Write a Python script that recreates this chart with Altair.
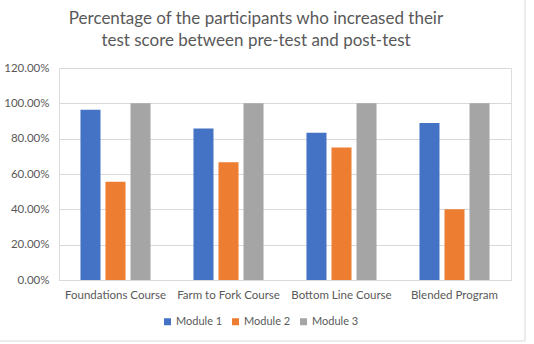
import altair as alt
import pandas as pd

categories = ["Foundations Course", "Farm to Fork Course", "Bottom Line Course", "Blended Program"]
series = ["Module 1", "Module 2", "Module 3"]
module1 = [0.963, 0.857, 0.833, 0.889]
module2 = [0.556, 0.667, 0.75, 0.40]
module3 = [1.0, 1.0, 1.0, 1.0]
colors = ["#4472C4", "#ED7D31", "#A5A5A5"]
y_ticks = [0, 0.2, 0.4, 0.6, 0.8, 1.0, 1.2]

rows = []
for i, c in enumerate(categories):
    for s, vals in zip(series, [module1, module2, module3]):
        rows.append({"Course": c, "Module": s, "Value": vals[i]})
df = pd.DataFrame(rows)

FONT = "Lato"
TXT = "#595959"

bars = alt.Chart(df).mark_bar().encode(
    x=alt.X("Course:N", sort=categories,
            scale=alt.Scale(paddingInner=0.38, paddingOuter=0.19),
            axis=alt.Axis(title=None, labelAngle=0, labelFont=FONT, labelFontSize=11.5,
                          labelColor=TXT, labelPadding=9, ticks=False,
                          domainColor="#D9D9D9", domainWidth=1)),
    xOffset=alt.XOffset("Module:N", sort=series,
                        scale=alt.Scale(paddingInner=0.2, paddingOuter=0)),
    y=alt.Y("Value:Q", scale=alt.Scale(domain=[0, 1.2], nice=False),
            axis=alt.Axis(title=None, values=y_ticks, format=".2%", labelFont=FONT,
                          labelFontSize=11.5, labelColor=TXT, labelPadding=10,
                          ticks=False, domain=False, gridColor="#D9D9D9", gridWidth=1)),
    color=alt.Color("Module:N", sort=series,
                    scale=alt.Scale(domain=series, range=colors),
                    legend=alt.Legend(title=None, orient="none", direction="horizontal",
                                      legendX=103, legendY=248, symbolType="square",
                                      symbolSize=49, symbolStrokeWidth=0,
                                      labelFont=FONT, labelFontSize=11, labelColor=TXT,
                                      labelOffset=3, columnPadding=7)),
)

border_df = pd.DataFrame({"a": [0]})
border_r = alt.Chart(border_df).mark_rule(color="#D9D9D9", strokeWidth=1, clip=False).encode(
    x=alt.value(466), y=alt.value(-70), y2=alt.value(273))
border_b = alt.Chart(border_df).mark_rule(color="#D9D9D9", strokeWidth=1, clip=False).encode(
    x=alt.value(-60), x2=alt.value(466), y=alt.value(273))

chart = alt.layer(bars, border_r, border_b).properties(
    width=452, height=212,
    autosize=alt.AutoSizeParams(type="none"),
    padding={"left": 59, "top": 68, "right": 23, "bottom": 64},
    title=alt.TitleParams(
        text=["Percentage of the participants who increased their",
              "test score between pre-test and post-test"],
        font=FONT, fontSize=17, fontWeight="normal", color=TXT,
        anchor="middle", frame="group", dx=-29, offset=0, dy=52, lineHeight=22),
).configure_view(stroke=None).configure(background="white")

chart.save("out.html", embed_options={"renderer": "svg", "actions": False})
